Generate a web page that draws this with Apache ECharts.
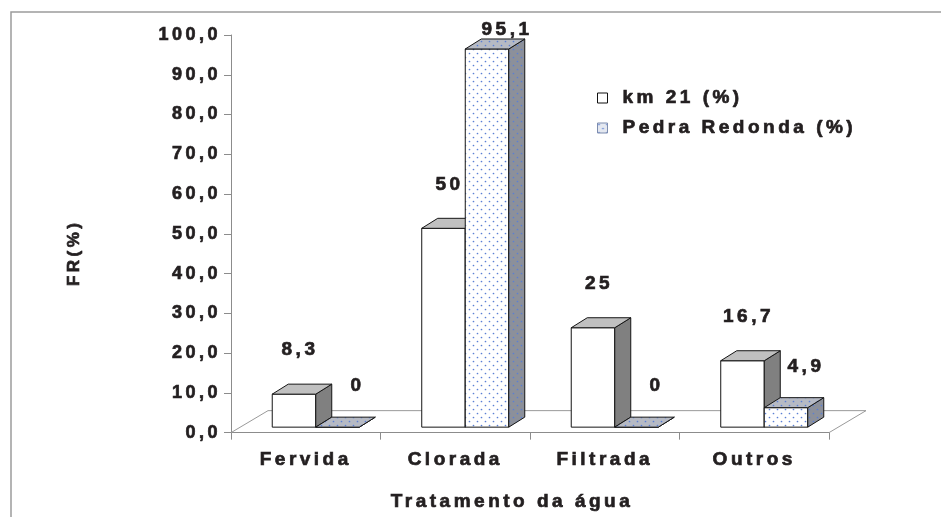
<!DOCTYPE html>
<html>
<head>
<meta charset="utf-8">
<script src="https://cdn.jsdelivr.net/npm/echarts@6/dist/echarts.min.js"></script>
<style>
  html, body { margin: 0; padding: 0; background: #ffffff; }
  #chart { width: 941px; height: 517px; }
</style>
</head>
<body>
<div id="chart"></div>
<script>
// Treatment categories and the share of households (%) per locality
const categories = ['Fervida', 'Clorada', 'Filtrada', 'Outros'];
const km21 = [8.3, 50, 25, 16.7];
const pedraRedonda = [0, 95.1, 0, 4.9];
const seriesNames = ['km 21 (%)', 'Pedra Redonda (%)'];
const yMin = 0, yMax = 100, yStep = 10;

// Oblique depth used for the pseudo-3D floor and columns
const FLOOR_DX = 37, FLOOR_DY = -22;
const BAR_SHIFT_X = 10, BAR_SHIFT_Y = -5.5;
const BAR_DX = 16, BAR_DY = -10;
const BAR_FRACTION = 0.291;

const FONT = '"Liberation Sans", Arial, sans-serif';
const TEXT = '#231f20';
// A thin outline in the text colour gives the heavy lettering
const HEAVY = { textBorderColor: TEXT, textBorderWidth: 0.7 };

// Text in this chart is set with a loose tracking; the font is re-applied
// afterwards so the weight is kept.
function withTracking(native) {
  return function () {
    if ('letterSpacing' in this) {
      const f = this.font;
      this.letterSpacing = '3.5px';
      this.font = f;
    }
    return native.apply(this, arguments);
  };
}
CanvasRenderingContext2D.prototype.fillText = withTracking(CanvasRenderingContext2D.prototype.fillText);
CanvasRenderingContext2D.prototype.strokeText = withTracking(CanvasRenderingContext2D.prototype.strokeText);

function dotPattern(bg, dot) {
  const c = document.createElement('canvas');
  c.width = 8; c.height = 8;
  const g = c.getContext('2d');
  g.fillStyle = bg;
  g.fillRect(0, 0, 8, 8);
  g.fillStyle = dot;
  [[1.5, 1.5], [5.5, 5.5]].forEach(function (p) {
    g.beginPath();
    g.arc(p[0], p[1], 0.85, 0, Math.PI * 2);
    g.fill();
  });
  return { image: c, repeat: 'repeat' };
}

const palettes = [
  { front: '#ffffff', top: '#c0c0c0', side: '#808080' },
  {
    front: dotPattern('#ffffff', '#5b7fd4'),
    top: dotPattern('#b6bac4', '#5b7fd4'),
    side: dotPattern('#8c909a', '#5b7fd4')
  }
];
const legendSwatch = dotPattern('#e4e8f0', '#5b7fd4');

function fmt(v) { return String(v).replace('.', ','); }

function makeBarRenderer(k) {
  const pal = palettes[k];
  return function (params, api) {
    const i = api.value(0);
    const v = api.value(1);
    const base = api.coord([i, 0]);
    const top = api.coord([i, v]);
    const w = api.size([1, 0])[0] * BAR_FRACTION;
    const x0 = base[0] - w + k * w + BAR_SHIFT_X;
    const x1 = x0 + w;
    const yb = base[1] + BAR_SHIFT_Y;
    const yt = top[1] + BAR_SHIFT_Y;
    const edge = { stroke: '#151515', lineWidth: 1, lineJoin: 'round' };
    const labelX = (x0 + x1) / 2 + (k === 0 ? 6 : 20);
    const labelY = Math.max(yt - (k === 0 ? 44 : 41), 30);
    return {
      type: 'group',
      children: [
        { type: 'polygon', shape: { points: [[x0, yb], [x1, yb], [x1, yt], [x0, yt]] },
          style: Object.assign({ fill: pal.front }, edge) },
        { type: 'polygon', shape: { points: [[x1, yb], [x1 + BAR_DX, yb + BAR_DY], [x1 + BAR_DX, yt + BAR_DY], [x1, yt]] },
          style: Object.assign({ fill: pal.side }, edge) },
        { type: 'polygon', shape: { points: [[x0, yt], [x1, yt], [x1 + BAR_DX, yt + BAR_DY], [x0 + BAR_DX, yt + BAR_DY]] },
          style: Object.assign({ fill: pal.top }, edge) },
        { type: 'text', style: { text: fmt(v), x: labelX, y: labelY, align: 'center', verticalAlign: 'middle',
          font: 'bold 19px ' + FONT, fill: TEXT, stroke: TEXT, lineWidth: 0.7 } }
      ]
    };
  };
}

function floorRenderer(params) {
  const cs = params.coordSys;
  const L = cs.x, R = cs.x + cs.width, B = cs.y + cs.height;
  return {
    type: 'polyline',
    shape: { points: [[L, B], [L + FLOOR_DX, B + FLOOR_DY], [R + FLOOR_DX, B + FLOOR_DY], [R, B]] },
    style: { stroke: '#9a9a9a', lineWidth: 1, fill: null }
  };
}

const chart = echarts.init(document.getElementById('chart'), null, { renderer: 'canvas' });

chart.setOption({
  animation: false,
  backgroundColor: '#ffffff',
  textStyle: { fontFamily: FONT },
  graphic: [{
    type: 'rect',
    shape: { x: 11, y: 12, width: 1000, height: 600 },
    style: { fill: 'none', stroke: '#9c9c9c', lineWidth: 1.5 },
    silent: true
  }],
  grid: { left: 231, top: 35, width: 598, height: 400, containLabel: false },
  legend: {
    orient: 'vertical',
    left: 592,
    top: 83,
    itemWidth: 10,
    itemHeight: 10,
    itemGap: 10,
    selectedMode: false,
    textStyle: Object.assign({ fontSize: 19, fontWeight: 'bold', color: TEXT, fontFamily: FONT, lineHeight: 20, padding: [0, 0, 0, 10] }, HEAVY),
    data: [
      { name: seriesNames[0], icon: 'rect', itemStyle: { color: '#ffffff', borderColor: '#111111', borderWidth: 1 } },
      { name: seriesNames[1], icon: 'rect', itemStyle: { color: legendSwatch, borderColor: '#7d8cae', borderWidth: 1 } }
    ]
  },
  xAxis: {
    type: 'category',
    data: categories,
    boundaryGap: true,
    name: 'Tratamento da água',
    nameLocation: 'middle',
    nameGap: 60,
    nameTextStyle: Object.assign({ fontSize: 19, fontWeight: 'bold', color: TEXT, fontFamily: FONT, padding: [0, 36, 0, 0] }, HEAVY),
    axisLine: { lineStyle: { color: '#8c8c8c', width: 1 } },
    axisTick: { show: true, length: 7, interval: 0, lineStyle: { color: '#8c8c8c' } },
    axisLabel: Object.assign({ margin: 18, fontSize: 19, fontWeight: 'bold', color: TEXT, fontFamily: FONT, interval: 0 }, HEAVY),
    splitLine: { show: false }
  },
  yAxis: {
    type: 'value',
    min: yMin,
    max: yMax,
    interval: yStep,
    name: 'FR(%)',
    nameLocation: 'middle',
    nameRotate: 90,
    nameGap: 148,
    nameTextStyle: Object.assign({ fontSize: 17, fontWeight: 'bold', color: TEXT, fontFamily: FONT, padding: [0, 38, 0, 0] }, HEAVY),
    axisLine: { show: true, lineStyle: { color: '#8c8c8c', width: 1 } },
    axisTick: { show: true, length: 7, lineStyle: { color: '#8c8c8c' } },
    axisLabel: Object.assign({ margin: 10, fontSize: 18, fontWeight: 'bold', color: TEXT, fontFamily: FONT,
      formatter: function (v) { return v.toFixed(1).replace('.', ','); } }, HEAVY),
    splitLine: { show: false }
  },
  series: [
    { type: 'custom', name: 'floor', silent: true, renderItem: floorRenderer, data: [[0, 0]], encode: { x: 0, y: 1 } },
    { type: 'custom', name: seriesNames[0], renderItem: makeBarRenderer(0),
      data: km21.map(function (v, i) { return [i, v]; }), encode: { x: 0, y: 1 } },
    { type: 'custom', name: seriesNames[1], renderItem: makeBarRenderer(1),
      data: pedraRedonda.map(function (v, i) { return [i, v]; }), encode: { x: 0, y: 1 } }
  ]
});
</script>
</body>
</html>
